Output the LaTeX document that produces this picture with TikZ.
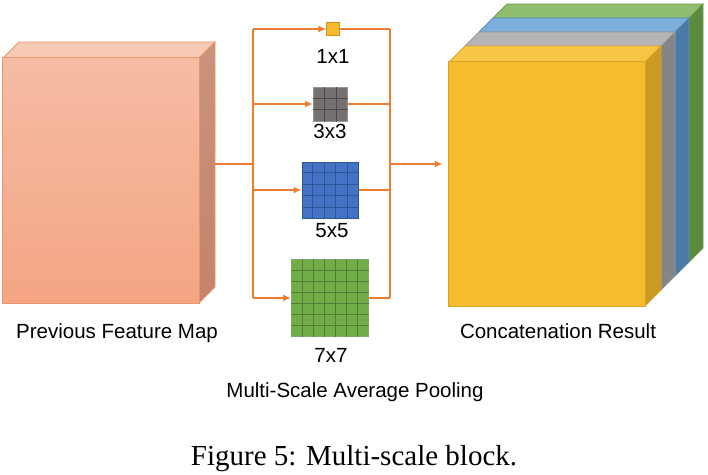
\documentclass[tikz,border=0pt]{standalone}
\usepackage{fontspec}
\setmainfont{Liberation Serif}
\newfontfamily\arialfont{Liberation Sans}
\usetikzlibrary{arrows.meta,calc}
\definecolor{conn}{HTML}{ED7D31}
\definecolor{prevtop}{HTML}{F7CAB6}
\definecolor{prevfrontA}{HTML}{F5BCA5}
\definecolor{prevfrontB}{HTML}{F4A583}
\definecolor{prevsideA}{HTML}{C9937D}
\definecolor{prevsideB}{HTML}{C5836A}
\definecolor{prevline}{HTML}{E9956B}
\definecolor{yfront}{HTML}{F5BC2D}
\definecolor{ytop}{HTML}{F7C646}
\definecolor{yside}{HTML}{CA9A23}
\definecolor{yline}{HTML}{D9A424}
\definecolor{gtop}{HTML}{B5B5B5}
\definecolor{gside}{HTML}{858585}
\definecolor{gline}{HTML}{9A9A9A}
\definecolor{btop}{HTML}{7DAFDD}
\definecolor{bside}{HTML}{4A7BA7}
\definecolor{bline}{HTML}{5E8DB8}
\definecolor{ntop}{HTML}{8FBF6E}
\definecolor{nside}{HTML}{5B8A3D}
\definecolor{nline}{HTML}{6E9A4E}
\definecolor{c1fill}{HTML}{F6B92B}
\definecolor{c1line}{HTML}{C9961E}
\definecolor{c3fill}{HTML}{767171}
\definecolor{c3line}{HTML}{4F4B4B}
\definecolor{c5fill}{HTML}{4472C4}
\definecolor{c5line}{HTML}{2F5597}
\definecolor{c7fill}{HTML}{70AD47}
\definecolor{c7line}{HTML}{507E32}
\newcommand{\gridcells}[3]{%
  \pgfmathtruncatemacro{\nn}{#2-1}%
  \foreach \k in {1,...,\nn}{%
    \draw[#3, line width=1pt] ($(#1.south west)!\k/#2!(#1.south east)$) -- ($(#1.north west)!\k/#2!(#1.north east)$);
    \draw[#3, line width=1pt] ($(#1.south west)!\k/#2!(#1.north west)$) -- ($(#1.south east)!\k/#2!(#1.north east)$);
  }%
}
\begin{document}
\begin{tikzpicture}[x=1pt,y=-1pt,
  connline/.style={draw=conn, line width=1.6pt},
  connarr/.style={connline, -{Latex[length=8pt,width=7pt]}},
  gridbox/.style={draw, inner sep=0pt, line width=1pt},
  lbl/.style={font=\arialfont\fontsize{20.5}{24}\selectfont, anchor=base, inner sep=0pt},
  caplbl/.style={font=\fontsize{29}{34}\selectfont, anchor=base, inner sep=0pt},
  facebox/.style={inner sep=0pt, draw=none}
]
\useasboundingbox[fill=white] (0,0) rectangle (708,474);

% ---- previous feature map (3D box)
\node[facebox, minimum width=196pt, minimum height=245pt] (prev) at (101,180.5) {};
\fill[prevtop, draw=prevline, line width=0.8pt] (3,58) -- (199,58) -- (215,42) -- (19,42) -- cycle;
\shade[top color=prevsideA, bottom color=prevsideB] (199,58) -- (215,42) -- (215,287) -- (199,303) -- cycle;
\draw[prevline, line width=0.8pt] (199,58) -- (215,42) -- (215,287) -- (199,303) -- cycle;
\shade[top color=prevfrontA, bottom color=prevfrontB] (prev.north west) rectangle (prev.south east);
\draw[prevline, line width=0.8pt] (prev.north west) rectangle (prev.south east);

% ---- concatenation result (stacked slices)
\node[facebox, minimum width=196pt, minimum height=244pt] (cat) at (547,184) {};
\fill[ntop, draw=nline, line width=0.8pt] (493,18) -- (689,18) -- (703,4) -- (507,4) -- cycle;
\fill[nside, draw=nline, line width=0.8pt] (689,18) -- (703,4) -- (703,248) -- (689,262) -- cycle;
\fill[btop, draw=bline, line width=0.8pt] (479,32) -- (675,32) -- (689,18) -- (493,18) -- cycle;
\fill[bside, draw=bline, line width=0.8pt] (675,32) -- (689,18) -- (689,262) -- (675,276) -- cycle;
\fill[gtop, draw=gline, line width=0.8pt] (465,46) -- (661,46) -- (675,32) -- (479,32) -- cycle;
\fill[gside, draw=gline, line width=0.8pt] (661,46) -- (675,32) -- (675,276) -- (661,290) -- cycle;
\fill[ytop, draw=yline, line width=0.8pt] (449,62) -- (645,62) -- (661,46) -- (465,46) -- cycle;
\fill[yside, draw=yline, line width=0.8pt] (645,62) -- (661,46) -- (661,290) -- (645,306) -- cycle;
\fill[yfront, draw=yline, line width=0.8pt] (cat.north west) rectangle (cat.south east);

% ---- pooling grids
\node[gridbox, draw=c1line, fill=c1fill, minimum size=12.5pt] (g1) at (333,29) {};
\node[gridbox, draw=c3line!60!white, fill=c3fill, minimum size=34pt] (g3) at (330.5,104) {};
\gridcells{g3}{3}{c3line}
\node[gridbox, draw=c5line, fill=c5fill, minimum size=56pt] (g5) at (330,190) {};
\gridcells{g5}{5}{c5line}
\node[gridbox, draw=c7line!70!white, fill=c7fill, minimum size=77pt] (g7) at (330,298) {};
\gridcells{g7}{7}{c7line}

% ---- connectors
\coordinate (jl) at (253,164);
\coordinate (jr) at (390,164);
\draw[connline] ([xshift=16pt]prev.east |- jl) -- (jl);
\draw[connline] (jl |- g1) -- (jl |- g7);
\draw[connline] (jr |- g1) -- (jr |- g7);
\draw[connarr] (jl |- g1) -- (g1.west);
\draw[connarr] (jl |- g3) -- (g3.west);
\draw[connarr] (jl |- g5) -- (g5.west);
\draw[connarr] (jl |- g7) -- (g7.west);
\draw[connline] (g1.east) -- (jr |- g1);
\draw[connline] (g3.east) -- (jr |- g3);
\draw[connline] (g5.east) -- (jr |- g5);
\draw[connline] (g7.east) -- (jr |- g7);
\draw[connarr] (jr) -- ([xshift=-6pt]cat.west |- jr);

% ---- labels
\node[lbl] (t1) at (333,63) {1x1};
\node[lbl] (t3) at (330,138) {3x3};
\node[lbl] (t5) at (332,237) {5x5};
\node[lbl] (t7) at (331,362) {7x7};
\node[lbl] (tprev) at (117,338) {Previous Feature Map};
\node[lbl] (tcat) at (558,338) {Concatenation Result};
\node[lbl] (tpool) at (355,397) {Multi-Scale Average Pooling};
\node[caplbl] (tcap) at (354,465) {Figure 5: Multi-scale block.};
\end{tikzpicture}
\end{document}
